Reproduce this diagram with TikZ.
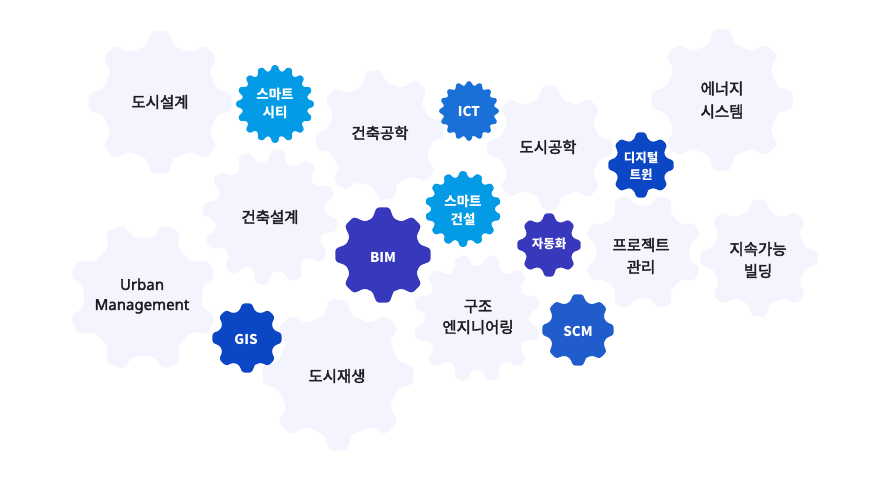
\documentclass[tikz,border=0pt]{standalone}
\usepackage{fontspec}
\newfontfamily\krfont{Noto Sans CJK KR}
\newfontfamily\krmed[FakeBold=2.5]{Noto Sans CJK KR}
\newfontfamily\enmed[FakeBold=2.5]{Noto Sans}
\definecolor{gearbg}{RGB}{243,244,253}
\definecolor{labeltext}{RGB}{30,30,34}
\definecolor{skyblue}{RGB}{3,155,230}
\definecolor{ictblue}{RGB}{25,112,214}
\definecolor{deepblue}{RGB}{11,70,196}
\definecolor{indigo}{RGB}{56,56,188}
\definecolor{scmblue}{RGB}{32,92,204}
% gear: x, y, teeth, root r, tip r, rotation, style, tip frac, root frac
\newcommand{\gear}[9]{%
  \begin{scope}[shift={(#1,#2)}]
    \pgfmathsetmacro\gst{360/#3}
    \pgfmathsetmacro\gtip{#8*\gst}
    \pgfmathsetmacro\groot{#9*\gst}
    \pgfmathtruncatemacro\glast{#3-1}
    \fill[#7] ({#6-\groot}:#4)
      \foreach \k in {0,...,\glast}{
        -- ({#6+\k*\gst-\gtip}:#5) -- ({#6+\k*\gst+\gtip}:#5)
        -- ({#6+\k*\gst+\groot}:#4) -- ({#6+(\k+1)*\gst-\groot}:#4)
      };
  \end{scope}}
\begin{document}
\begin{tikzpicture}[x=1pt,y=-1pt,
  biggear/.style={fill=gearbg,rounded corners=4pt},
  cog/.style={fill=#1,rounded corners=2.5pt},
  biglabel/.style={font=\krmed\fontsize{15.5}{23}\selectfont,text=labeltext,align=center},
  cogl/.style={font=\krfont\bfseries\fontsize{13.5}{18}\selectfont,text=white,align=center}]
\useasboundingbox (0,0) rectangle (890,480);
\fill[white] (0,0) rectangle (890,480);
% large gears
\gear{160}{102}{8}{58}{72}{90}{biggear}{0.15}{0.29}
\gear{380}{135}{8}{52}{65}{84}{biggear}{0.15}{0.29}
\gear{550}{148}{8}{50}{63}{90}{biggear}{0.15}{0.29}
\gear{722}{100}{8}{57}{71}{90}{biggear}{0.15}{0.29}
\gear{270}{217}{12}{55}{68}{97}{biggear}{0.17}{0.34}
\gear{143}{297}{8}{60}{75}{22.5}{biggear}{0.15}{0.29}
\gear{338}{375}{8}{61}{76}{90}{biggear}{0.15}{0.29}
\gear{477}{318}{12}{52}{64}{105}{biggear}{0.17}{0.34}
\gear{643}{252}{8}{47}{59}{22.5}{biggear}{0.15}{0.29}
\gear{759}{258}{8}{47}{59}{90}{biggear}{0.15}{0.29}
% small gears
\gear{275}{104}{16}{33}{39}{90}{cog=skyblue}{0.2}{0.33}
\gear{469}{111}{16}{25.5}{30}{90}{cog=ictblue}{0.2}{0.33}
\gear{463}{209}{14}{32}{38}{90}{cog=skyblue}{0.2}{0.33}
\gear{641}{165}{8}{26}{33}{90}{cog=deepblue}{0.17}{0.36}
\gear{383}{255}{8}{38}{48}{90}{cog=indigo}{0.17}{0.36}
\gear{549}{245}{8}{25}{32}{90}{cog=indigo}{0.17}{0.36}
\gear{247}{338}{8}{28}{35}{90}{cog=deepblue}{0.17}{0.36}
\gear{578}{330}{8}{29}{36}{90}{cog=scmblue}{0.17}{0.36}
% labels
\node[biglabel] (dosiseolgye) at (160,102) {도시설계};
\node[biglabel] (geonchukgonghak) at (380,133) {건축공학};
\node[biglabel] (dosigonghak) at (548,147) {도시공학};
\node[biglabel] (energy) at (722,100) {에너지\\시스템};
\node[biglabel] (geonchukseolgye) at (270,217) {건축설계};
\node[biglabel,font=\enmed\fontsize{15}{20}\selectfont] (urban) at (142,296) {Urban\\Management};
\node[biglabel] (dosijaesaeng) at (337,376) {도시재생};
\node[biglabel,font=\krmed\fontsize{15.5}{21}\selectfont] (gujo) at (478,317) {구조\\엔지니어링};
\node[biglabel,font=\krmed\fontsize{15.5}{22}\selectfont] (project) at (641,256) {프로젝트\\관리};
\node[biglabel,font=\krmed\fontsize{15.5}{22}\selectfont] (jisok) at (758,260) {지속가능\\빌딩};
\node[cogl] (smartcity) at (275,103) {스마트\\시티};
\node[cogl] (ict) at (469,111) {ICT};
\node[cogl] (smartcon) at (463,210) {스마트\\건설};
\node[cogl,font=\krfont\bfseries\fontsize{12.5}{17}\selectfont] (twin) at (641,166) {디지털\\트윈};
\node[cogl] (bim) at (383,257) {BIM};
\node[cogl,font=\krfont\bfseries\fontsize{12.5}{17}\selectfont] (auto) at (549,244) {자동화};
\node[cogl] (gis) at (246,339) {GIS};
\node[cogl] (scm) at (578,331) {SCM};
\end{tikzpicture}
\end{document}
